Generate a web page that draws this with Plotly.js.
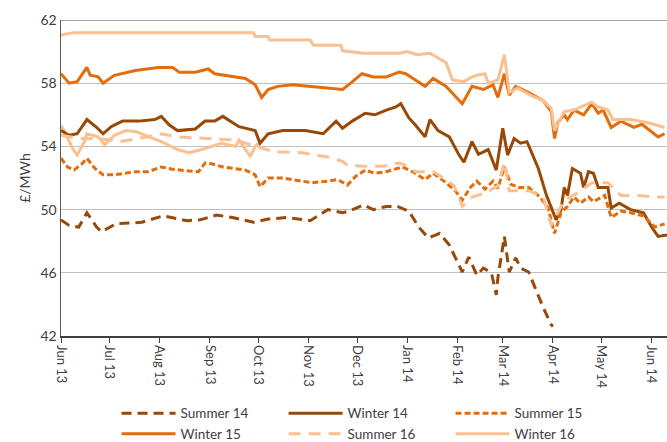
<!DOCTYPE html>
<html>
<head>
<meta charset="utf-8">
<script src="https://cdn.plot.ly/plotly-3.0.1.min.js"></script>
<style>
html,body{margin:0;padding:0;background:#fff;}
#chart{width:667px;height:442px;}
</style>
</head>
<body>
<div id="chart"></div>
<script>
// ---- Data ----
const s14Dates = ['2013-06-01','2013-06-06','2013-06-12','2013-06-17','2013-06-23','2013-06-26','2013-07-05','2013-07-21','2013-08-03','2013-08-18','2013-08-26','2013-09-05','2013-09-15','2013-09-28','2013-10-07','2013-10-19','2013-11-02','2013-11-13','2013-11-22','2013-11-26','2013-12-05','2013-12-11','2013-12-19','2013-12-26','2014-01-02','2014-01-08','2014-01-14','2014-01-21','2014-01-27','2014-01-31','2014-02-04','2014-02-08','2014-02-13','2014-02-17','2014-02-22','2014-02-25','2014-02-26','2014-03-02','2014-03-05','2014-03-09','2014-03-12','2014-03-17','2014-03-21','2014-03-26','2014-03-31','2014-04-01'];
const s14Vals = [49.35,49.0,48.9,49.8,48.9,48.6,49.1,49.2,49.6,49.3,49.35,49.65,49.5,49.2,49.4,49.5,49.3,50.0,49.8,49.9,50.3,50.0,50.2,50.2,49.9,48.9,48.2,48.5,47.75,46.9,46.05,47.0,45.85,46.3,46.0,44.6,45.7,48.3,46.05,46.95,46.3,46.05,45.05,43.8,42.7,42.6];

const w14Dates = ['2013-06-01','2013-06-06','2013-06-11','2013-06-17','2013-06-23','2013-06-27','2013-07-02','2013-07-09','2013-07-19','2013-07-29','2013-08-02','2013-08-07','2013-08-12','2013-08-23','2013-08-29','2013-09-04','2013-09-09','2013-09-19','2013-09-29','2013-10-02','2013-10-07','2013-10-16','2013-10-30','2013-11-10','2013-11-18','2013-11-22','2013-11-28','2013-12-06','2013-12-12','2013-12-19','2013-12-25','2013-12-28','2014-01-02','2014-01-06','2014-01-12','2014-01-15','2014-01-20','2014-01-27','2014-02-02','2014-02-05','2014-02-10','2014-02-14','2014-02-20','2014-02-25','2014-03-01','2014-03-04','2014-03-08','2014-03-12','2014-03-16','2014-03-23','2014-03-28','2014-04-01','2014-04-03','2014-04-06','2014-04-08','2014-04-10','2014-04-13','2014-04-18','2014-04-20','2014-04-23','2014-04-26','2014-04-29','2014-05-05','2014-05-07','2014-05-12','2014-05-19','2014-05-27','2014-06-01','2014-06-05','2014-06-11'];
const w14Vals = [55.0,54.7,54.8,55.7,55.2,54.8,55.25,55.6,55.6,55.7,55.9,55.35,55.0,55.1,55.6,55.6,55.9,55.25,55.0,54.2,54.8,55.0,55.0,54.8,55.6,55.15,55.6,56.1,56.0,56.3,56.5,56.7,55.8,55.35,54.6,55.7,55.0,54.6,53.45,53.0,54.3,53.5,53.8,52.5,55.15,53.45,54.5,54.2,54.3,52.6,50.9,49.9,49.35,50.0,51.4,50.9,52.6,52.3,51.4,52.4,52.3,51.4,51.4,50.1,50.4,50.0,49.8,48.9,48.3,48.4];

const s15Dates = ['2013-06-01','2013-06-05','2013-06-09','2013-06-14','2013-06-17','2013-06-22','2013-06-27','2013-07-04','2013-07-17','2013-07-25','2013-08-02','2013-08-09','2013-08-19','2013-08-25','2013-08-29','2013-09-02','2013-09-09','2013-09-17','2013-09-23','2013-09-29','2013-10-02','2013-10-07','2013-10-16','2013-10-22','2013-11-03','2013-11-13','2013-11-19','2013-11-25','2013-11-30','2013-12-06','2013-12-12','2013-12-19','2013-12-25','2013-12-29','2014-01-06','2014-01-12','2014-01-17','2014-01-25','2014-01-31','2014-02-04','2014-02-09','2014-02-13','2014-02-18','2014-02-23','2014-02-26','2014-03-02','2014-03-06','2014-03-11','2014-03-17','2014-03-24','2014-03-29','2014-04-02','2014-04-06','2014-04-10','2014-04-14','2014-04-18','2014-04-23','2014-04-26','2014-05-03','2014-05-07','2014-05-13','2014-05-19','2014-05-27','2014-06-03','2014-06-09'];
const s15Vals = [53.25,52.7,52.5,52.9,53.25,52.6,52.2,52.2,52.4,52.4,52.7,52.55,52.45,52.4,52.95,52.9,52.7,52.6,52.5,52.2,51.45,52.0,52.0,51.9,51.7,51.8,51.9,51.55,52.1,52.5,52.3,52.4,52.6,52.7,52.3,51.9,52.3,51.7,51.15,50.6,51.4,51.8,51.3,51.8,51.35,52.7,51.6,51.4,51.4,50.8,50.1,48.5,49.8,50.2,50.8,50.4,50.8,50.5,50.9,49.5,49.9,49.8,49.6,48.9,49.1];

const w15Dates = ['2013-06-01','2013-06-06','2013-06-11','2013-06-17','2013-06-19','2013-06-24','2013-06-27','2013-07-04','2013-07-17','2013-07-31','2013-08-09','2013-08-13','2013-08-23','2013-08-31','2013-09-04','2013-09-15','2013-09-23','2013-09-29','2013-10-03','2013-10-07','2013-10-13','2013-10-22','2013-11-01','2013-11-12','2013-11-22','2013-11-27','2013-12-04','2013-12-11','2013-12-19','2013-12-27','2013-12-31','2014-01-06','2014-01-12','2014-01-17','2014-01-25','2014-02-04','2014-02-10','2014-02-17','2014-02-23','2014-02-26','2014-03-02','2014-03-05','2014-03-09','2014-03-17','2014-03-26','2014-03-31','2014-04-02','2014-04-04','2014-04-08','2014-04-10','2014-04-14','2014-04-20','2014-04-25','2014-04-29','2014-05-02','2014-05-07','2014-05-13','2014-05-21','2014-05-26','2014-06-05','2014-06-09'];
const w15Vals = [58.6,58.0,58.1,59.0,58.5,58.4,58.0,58.5,58.8,59.0,59.0,58.7,58.7,58.9,58.6,58.4,58.3,57.9,57.1,57.6,57.8,57.9,57.8,57.7,57.6,58.0,58.6,58.4,58.4,58.7,58.6,58.2,57.8,58.3,57.8,56.7,57.8,57.6,57.9,57.1,58.6,57.25,57.8,57.4,56.9,56.2,54.5,55.5,56.0,55.7,56.3,56.0,56.7,56.1,56.3,55.2,55.6,55.2,55.4,54.6,54.8];

const s16Dates = ['2013-06-01','2013-06-13','2013-06-25','2013-07-07','2013-07-24','2013-08-02','2013-08-12','2013-08-23','2013-09-04','2013-09-17','2013-09-23','2013-10-11','2013-10-28','2013-11-12','2013-11-22','2013-11-25','2013-12-06','2013-12-17','2013-12-27','2013-12-31','2014-01-06','2014-01-17','2014-01-25','2014-01-30','2014-02-04','2014-02-10','2014-02-18','2014-02-26','2014-03-02','2014-03-05','2014-03-17','2014-03-26','2014-03-31','2014-04-03','2014-04-08','2014-04-17','2014-04-25','2014-05-05','2014-05-13','2014-05-24','2014-06-03','2014-06-09'];
const s16Vals = [54.7,54.5,54.5,54.3,54.6,54.8,54.6,54.55,54.5,54.4,54.2,53.65,53.6,53.35,53.05,52.8,52.75,52.75,52.95,52.8,52.4,52.4,51.9,51.5,50.2,50.8,51.05,51.5,53.0,51.2,51.2,50.8,49.0,49.6,50.6,51.1,51.7,51.7,50.9,50.9,50.8,50.8];

// second light line (solid) visible near the Summer 16 dashes, Jun–Sep 2013
const s16bDates = ['2013-06-01','2013-06-03','2013-06-08','2013-06-11','2013-06-16','2013-06-17','2013-06-24','2013-06-28','2013-07-04','2013-07-11','2013-07-17','2013-07-23','2013-07-29','2013-08-02','2013-08-12','2013-08-19','2013-08-27','2013-09-02','2013-09-08','2013-09-17','2013-09-19','2013-09-23','2013-09-26','2013-09-29','2013-10-01'];
const s16bVals = [55.3,55.0,53.9,53.45,54.4,54.8,54.6,54.1,54.7,55.0,54.95,54.7,54.5,54.3,53.8,53.6,53.8,54.0,54.2,54.0,54.4,53.8,53.35,54.0,54.2];

const w16Dates = ['2013-06-01','2013-06-09','2013-09-28','2013-09-29','2013-10-07','2013-10-08','2013-11-02','2013-11-04','2013-11-21','2013-11-22','2013-12-05','2013-12-27','2014-01-01','2014-01-07','2014-01-15','2014-01-25','2014-01-29','2014-02-05','2014-02-10','2014-02-13','2014-02-18','2014-02-20','2014-02-26','2014-03-02','2014-03-05','2014-03-10','2014-03-18','2014-03-26','2014-03-31','2014-04-02','2014-04-08','2014-04-14','2014-04-25','2014-04-29','2014-05-05','2014-05-08','2014-05-19','2014-05-30','2014-06-09'];
const w16Vals = [61.05,61.2,61.2,60.95,60.95,60.73,60.73,60.4,60.4,60.05,59.9,59.9,60.0,59.8,59.9,59.3,58.2,58.1,58.4,58.5,58.6,58.0,58.2,59.8,57.4,57.7,57.25,56.9,56.4,55.0,56.2,56.3,56.8,56.5,56.3,55.7,55.7,55.5,55.2];

const yTicks = [42,46,50,54,58,62];

const DARK = '#984807', MID = '#E46C0A', LIGHT = '#FAC090';

function tr(name, x, y, color, dash, show) {
  return {x: x, y: y, name: name, type: 'scatter', mode: 'lines',
          line: {color: color, width: 3, dash: dash}, showlegend: show !== false,
          hoverinfo: 'x+y+name'};
}

const data = [
  tr('Summer 16', s16bDates, s16bVals, LIGHT, 'solid', false),
  tr('Summer 14', s14Dates, s14Vals, DARK, '10px,6px'),
  tr('Winter 14', w14Dates, w14Vals, DARK, 'solid'),
  tr('Summer 15', s15Dates, s15Vals, MID, '6px,3px'),
  tr('Winter 15', w15Dates, w15Vals, MID, 'solid'),
  tr('Summer 16', s16Dates, s16Vals, LIGHT, '12px,8px'),
  tr('Winter 16', w16Dates, w16Vals, LIGHT, 'solid')
];

const layout = {
  width: 667, height: 442,
  margin: {l: 61, r: 0, t: 20, b: 106, autoexpand: false},
  paper_bgcolor: '#fff', plot_bgcolor: '#fff',
  font: {family: 'Lato, "Open Sans", sans-serif', color: '#404040', size: 13},
  showlegend: true,
  legend: {orientation: 'h', x: 0.0917, xanchor: 'left', y: -0.196, yanchor: 'top',
           entrywidth: 98, entrywidthmode: 'pixels', traceorder: 'normal',
           font: {size: 13.5, color: '#404040'}, tracegroupgap: 0, itemwidth: 54},
  xaxis: {
    type: 'date', range: ['2013-06-01', '2014-06-10 12:00'],
    tick0: '2013-06-01', dtick: 'M1', tickformat: '%b %y', tickangle: 90,
    ticks: 'outside', ticklen: 5, tickcolor: '#404040', tickwidth: 1,
    showline: true, linecolor: '#404040', linewidth: 1.5,
    showgrid: false, zeroline: false,
    tickfont: {size: 13, color: '#404040'}
  },
  yaxis: {
    range: [42, 62], tickvals: yTicks, ticktext: yTicks.map(String),
    showgrid: true, gridcolor: '#bfbfbf', gridwidth: 1,
    showline: true, linecolor: '#595959', linewidth: 1.5,
    ticks: '', zeroline: false,
    tickfont: {size: 14, color: '#404040'},
    title: {text: '£/MWh', font: {size: 14, color: '#404040'}, standoff: 6}
  },
  shapes: [{type: 'line', xref: 'paper', yref: 'y', x0: 0, x1: 1, y0: 62, y1: 62,
            line: {color: '#a6a6a6', width: 2}}]
};

Plotly.newPlot('chart', data, layout, {displayModeBar: false, staticPlot: true});
</script>
</body>
</html>
